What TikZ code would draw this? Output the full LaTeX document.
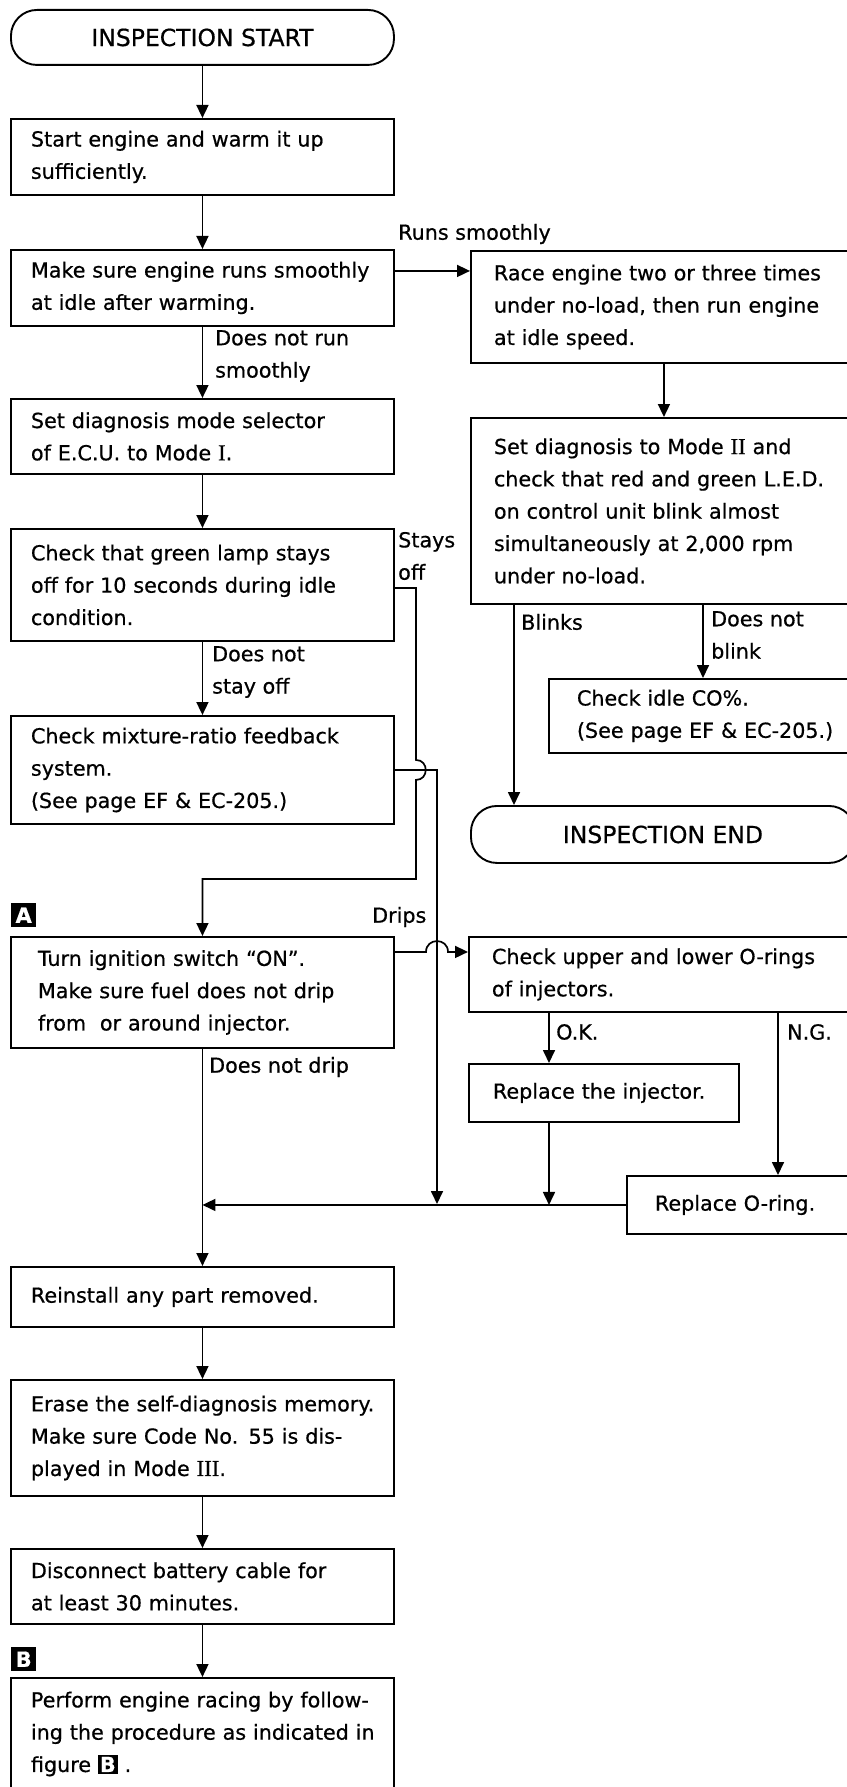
\documentclass[tikz,border=0pt]{standalone}
\usepackage{fontspec}
\setmainfont[FakeBold=0.6]{DejaVu Sans}
\newfontfamily\romfont[Scale=1.1,FakeBold=0.6]{Liberation Serif}
\usetikzlibrary{arrows.meta,calc}
\newcommand{\rmn}[1]{{\romfont #1}}
\newcommand{\tagbox}[1]{{\setlength{\fboxsep}{2pt}\colorbox{black}{\textcolor{white}{\bfseries #1}}}}
\begin{document}
\begin{tikzpicture}[x=1pt,y=-1pt,
  every node/.style={font=\fontsize{20.7}{32.3}\selectfont},
  box/.style={draw, line width=1.9pt, anchor=north west, align=left, inner xsep=#1, inner ysep=0pt},
  box/.default=20pt,
  term/.style={draw, line width=1.9pt, rounded corners=26pt, anchor=north west, inner sep=0pt, font=\fontsize{23.5}{28}\selectfont},
  lbl/.style={anchor=west, align=left, inner sep=0pt},
  tag/.style={fill=black, text=white, font=\fontsize{21}{21}\selectfont\bfseries, minimum width=25pt, minimum height=24pt, inner sep=0pt, anchor=north west},
  conn/.style={line width=1.7pt},
  arr/.style={conn, -{Triangle[length=13pt,width=12pt]}},
]
\useasboundingbox (0,0) rectangle (846,1787);

% left column
\node[term, minimum width=383pt, minimum height=55pt] (start) at (10,9) {INSPECTION START};
\node[box, text width=343pt, minimum height=76pt] (warm) at (10,118) {Start engine and warm it up\\sufficiently.};
\node[box, text width=343pt, minimum height=76pt] (idle) at (10,249) {\mbox{Make sure engine runs smoothly}\\at idle after warming.};
\node[box, text width=343pt, minimum height=75pt] (mode1) at (10,398) {Set diagnosis mode selector\\of E.C.U. to Mode \rmn{I}.};
\node[box, text width=343pt, minimum height=112pt] (lamp) at (10,528) {Check that green lamp stays\\off for 10 seconds during idle\\condition.};
\node[box, text width=343pt, minimum height=108pt] (mix) at (10,715) {Check mixture-ratio feedback\\system.\\(See page EF \& EC-205.)};
\node[box=27pt, text width=329pt, minimum height=111pt] (ign) at (10,936) {Turn ignition switch ``ON''.\\Make sure fuel does not drip\\from~ or around injector.};
\node[box, text width=343pt, minimum height=60pt] (reinst) at (10,1266) {Reinstall any part removed.};
\node[box, text width=343pt, minimum height=116pt] (erase) at (10,1379) {\mbox{Erase the self-diagnosis memory.}\\Make sure Code No. 55 is dis-\\played in Mode \rmn{III}.};
\node[box, text width=343pt, minimum height=75pt] (batt) at (10,1548) {Disconnect battery cable for\\at least 30 minutes.};
\node[box, text width=343pt, minimum height=112pt] (perf) at (10,1677) {\mbox{Perform engine racing by follow-}\\\mbox{ing the procedure as indicated in}\\figure \tagbox{B} .};

% right column
\node[box=23pt, text width=340pt, minimum height=112pt] (race) at (470,250) {Race engine two or three times\\under no-load, then run engine\\at idle speed.};
\node[box=23pt, text width=340pt, minimum height=186pt] (mode2) at (470,417) {Set diagnosis to Mode \rmn{II} and\\check that red and green L.E.D.\\on control unit blink almost\\simultaneously at 2,000 rpm\\under no-load.};
\node[box=28pt, text width=280pt, minimum height=74pt] (co) at (548,678) {Check idle CO\%.\\(See page EF \& EC-205.)};
\node[term, minimum width=384pt, minimum height=57pt] (fin) at (470,805) {INSPECTION END};
\node[box=23pt, text width=340pt, minimum height=75pt] (orings) at (468,936) {Check upper and lower O-rings\\of injectors.};
\node[box=24pt, text width=222pt, minimum height=58pt] (inj) at (468,1063) {Replace the injector.};
\node[box=28pt, text width=200pt, minimum height=58pt] (oring) at (626,1175) {Replace O-ring.};

% tags
\node[tag] (tagA) at (11,903) {A};
\node[tag] (tagB) at (11,1647) {B};

% labels
\node[lbl] (lRuns) at (398,234) {Runs smoothly};
\node[lbl] (lNotRun) at (215,356) {Does not run\\smoothly};
\node[lbl] (lStays) at (398,556) {Stays\\off};
\node[lbl] (lNotStay) at (212,672) {Does not\\stay off};
\node[lbl] (lBlinks) at (521,622) {Blinks};
\node[lbl] (lNotBlink) at (711,635) {Does not\\blink};
\node[lbl] (lDrips) at (372,917) {Drips};
\node[lbl] (lOK) at (556,1032) {O.K.};
\node[lbl] (lNG) at (787,1032) {N.G.};
\node[lbl] (lNotDrip) at (209,1067) {Does not drip};

% helper coordinates
\coordinate (sobend) at (416,879);
\coordinate (mixdown) at (437,1204);
\coordinate (hopS) at (sobend |- mix.east);
\coordinate (dripin) at ([yshift=40.5pt]ign.east);
\coordinate (hopD) at (dripin -| mixdown);
\coordinate (blk) at ([xshift=44pt]mode2.south west);
\coordinate (dnb) at ([xshift=233pt]mode2.south west);
\coordinate (ok) at ([xshift=81pt]orings.south west);
\coordinate (ng) at ([xshift=310pt]orings.south west);
\coordinate (injd) at ([xshift=81pt]inj.south west);
\coordinate (runs) at ([yshift=17pt]idle.east);
\coordinate (stays) at ([yshift=-3pt]lamp.east);

% connectors
\draw[arr] (start.south) -- (warm.north);
\draw[arr] (warm.south) -- (idle.north);
\draw[arr] (idle.south) -- (mode1.north);
\draw[arr] (runs) -- (runs -| race.west);
\draw[arr] (race.south) -- (mode2.north);
\draw[arr] (mode1.south) -- (lamp.north);
\draw[arr] (lamp.south) -- (mix.north);
\draw[arr] (stays) -| ($(hopS)+(0,-10)$) .. controls +(13,0) and +(13,0) .. ($(hopS)+(0,10)$) -- (sobend) -| (ign.north);
\draw[arr] (mix.east) -| (mixdown);
\draw[arr] (blk) -- (blk |- fin.north);
\draw[arr] (dnb) -- (dnb |- co.north);
\draw[arr] (dripin) -- ($(hopD)+(-11,0)$) .. controls +(0,-14.5) and +(0,-14.5) .. ($(hopD)+(11,0)$) -- (dripin -| orings.west);
\draw[arr] (ok) -- (ok |- inj.north);
\draw[arr] (ng) -- (ng |- oring.north);
\draw[arr] (injd) -- (injd |- oring.west);
\draw[arr] (oring.west) -- (oring.west -| ign.south);
\draw[arr] (ign.south) -- (reinst.north);
\draw[arr] (reinst.south) -- (erase.north);
\draw[arr] (erase.south) -- (batt.north);
\draw[arr] (batt.south) -- (perf.north);
\end{tikzpicture}
\end{document}
